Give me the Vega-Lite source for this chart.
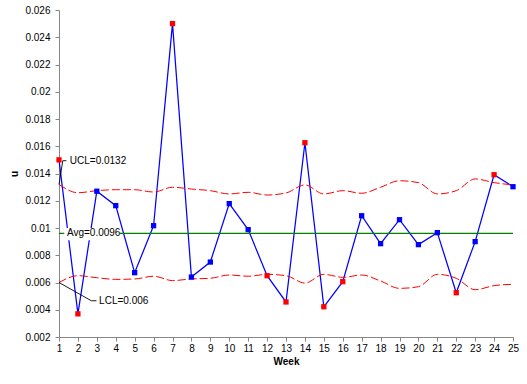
{
  "$schema": "https://vega.github.io/schema/vega-lite/v6.json",
  "width": 454,
  "height": 327,
  "autosize": {"type": "none"},
  "padding": {"left": 59, "top": 10, "right": 14, "bottom": 47},
  "background": "white",
  "config": {
    "view": {"stroke": null},
    "font": "Liberation Sans",
    "axis": {"labelFont": "Liberation Sans", "titleFont": "Liberation Sans", "labelColor": "#000000", "titleColor": "#000000", "domainColor": "#868686", "tickColor": "#868686", "grid": false, "labelFontSize": 10, "titleFontSize": 10, "titleFontWeight": "bold", "tickSize": 4, "labelFlush": false}
  },
  "datasets": {
    "weeks": [
      {"week": 1, "u": 0.0150, "ucl": 0.0132, "lcl": 0.0060, "status": "out"},
      {"week": 2, "u": 0.0037, "ucl": 0.01259, "lcl": 0.0065, "status": "out"},
      {"week": 3, "u": 0.0127, "ucl": 0.01274, "lcl": 0.00635, "status": "in"},
      {"week": 4, "u": 0.01164, "ucl": 0.01281, "lcl": 0.00623, "status": "in"},
      {"week": 5, "u": 0.00672, "ucl": 0.01281, "lcl": 0.00626, "status": "in"},
      {"week": 6, "u": 0.01017, "ucl": 0.01264, "lcl": 0.00646, "status": "in"},
      {"week": 7, "u": 0.0250, "ucl": 0.01299, "lcl": 0.00614, "status": "out"},
      {"week": 8, "u": 0.0064, "ucl": 0.01286, "lcl": 0.00626, "status": "in"},
      {"week": 9, "u": 0.0075, "ucl": 0.01274, "lcl": 0.00631, "status": "in"},
      {"week": 10, "u": 0.01179, "ucl": 0.0125, "lcl": 0.00655, "status": "in"},
      {"week": 11, "u": 0.00988, "ucl": 0.01262, "lcl": 0.00646, "status": "in"},
      {"week": 12, "u": 0.0065, "ucl": 0.01242, "lcl": 0.0066, "status": "out"},
      {"week": 13, "u": 0.00457, "ucl": 0.01257, "lcl": 0.0065, "status": "out"},
      {"week": 14, "u": 0.01626, "ucl": 0.01316, "lcl": 0.00596, "status": "out"},
      {"week": 15, "u": 0.00422, "ucl": 0.0125, "lcl": 0.0066, "status": "out"},
      {"week": 16, "u": 0.00606, "ucl": 0.01274, "lcl": 0.00638, "status": "out"},
      {"week": 17, "u": 0.0109, "ucl": 0.01255, "lcl": 0.00655, "status": "in"},
      {"week": 18, "u": 0.00885, "ucl": 0.01299, "lcl": 0.00611, "status": "in"},
      {"week": 19, "u": 0.01061, "ucl": 0.01347, "lcl": 0.00557, "status": "in"},
      {"week": 20, "u": 0.00878, "ucl": 0.01333, "lcl": 0.00569, "status": "in"},
      {"week": 21, "u": 0.00966, "ucl": 0.0125, "lcl": 0.0066, "status": "in"},
      {"week": 22, "u": 0.00525, "ucl": 0.01274, "lcl": 0.00631, "status": "out"},
      {"week": 23, "u": 0.0090, "ucl": 0.0136, "lcl": 0.00547, "status": "in"},
      {"week": 24, "u": 0.01391, "ucl": 0.01333, "lcl": 0.00577, "status": "out"},
      {"week": 25, "u": 0.01303, "ucl": 0.01316, "lcl": 0.00587, "status": "in"}
    ],
    "leaders": [
      {"label": "UCL", "seq": 1, "week": 1, "u": 0.0132},
      {"label": "UCL", "seq": 2, "week": 1.2, "u": 0.01494},
      {"label": "UCL", "seq": 3, "week": 1.39, "u": 0.01494},
      {"label": "LCL", "seq": 1, "week": 1, "u": 0.006},
      {"label": "LCL", "seq": 2, "week": 2.71, "u": 0.00466},
      {"label": "LCL", "seq": 3, "week": 2.98, "u": 0.00466}
    ],
    "labels": [
      {"text": "UCL=0.0132", "week": 1.57, "u": 0.01494},
      {"text": "Avg=0.0096", "week": 1.42, "u": 0.0096},
      {"text": "LCL=0.006", "week": 3.12, "u": 0.00464}
    ],
    "boxes": [
      {"from": 1.28, "to": 4.22, "top": 0.0100, "bottom": 0.0091}
    ]
  },
  "layer": [
    {
      "data": {"name": "weeks"},
      "mark": {"type": "line", "color": "#0000FF", "strokeWidth": 1.25},
      "encoding": {
        "x": {"field": "week", "type": "quantitative",
          "scale": {"domain": [1, 25], "nice": false, "zero": false},
          "axis": {"values": [1,2,3,4,5,6,7,8,9,10,11,12,13,14,15,16,17,18,19,20,21,22,23,24,25], "tickCount": 25, "format": "d", "title": "Week", "labelPadding": 2, "titlePadding": 3, "labelOverlap": false}},
        "y": {"field": "u", "type": "quantitative",
          "scale": {"domain": [0.002, 0.026], "nice": false, "zero": false},
          "axis": {"values": [0.002,0.004,0.006,0.008,0.01,0.012,0.014,0.016,0.018,0.02,0.022,0.024,0.026], "tickCount": 13, "format": "~g", "title": "u", "labelPadding": 5, "titlePadding": 5, "labelOverlap": false}}
      }
    },
    {
      "data": {"name": "weeks"},
      "mark": {"type": "rule", "color": "#008000", "strokeWidth": 1.25},
      "encoding": {
        "x": {"field": "week", "type": "quantitative", "aggregate": "min"},
        "x2": {"field": "week", "aggregate": "max"},
        "y": {"datum": 0.0096, "type": "quantitative"}
      }
    },
    {
      "data": {"name": "weeks"},
      "mark": {"type": "line", "color": "#FF0000", "strokeWidth": 1, "strokeDash": [8, 3], "interpolate": "monotone"},
      "encoding": {
        "x": {"field": "week", "type": "quantitative"},
        "y": {"field": "ucl", "type": "quantitative"}
      }
    },
    {
      "data": {"name": "weeks"},
      "mark": {"type": "line", "color": "#FF0000", "strokeWidth": 1, "strokeDash": [8, 3], "interpolate": "monotone"},
      "encoding": {
        "x": {"field": "week", "type": "quantitative"},
        "y": {"field": "lcl", "type": "quantitative"}
      }
    },
    {
      "data": {"name": "weeks"},
      "mark": {"type": "point", "shape": "square", "filled": true, "size": 28, "opacity": 1, "strokeWidth": 0},
      "encoding": {
        "x": {"field": "week", "type": "quantitative"},
        "y": {"field": "u", "type": "quantitative"},
        "color": {"field": "status", "type": "nominal", "scale": {"domain": ["in", "out"], "range": ["#0000FF", "#FF0000"]}, "legend": null}
      }
    },
    {
      "data": {"name": "boxes"},
      "mark": {"type": "rect", "color": "#FFFFFF", "opacity": 1},
      "encoding": {
        "x": {"field": "from", "type": "quantitative"},
        "x2": {"field": "to"},
        "y": {"field": "top", "type": "quantitative"},
        "y2": {"field": "bottom"}
      }
    },
    {
      "data": {"name": "leaders"},
      "mark": {"type": "line", "color": "#000000", "strokeWidth": 0.9},
      "encoding": {
        "x": {"field": "week", "type": "quantitative"},
        "y": {"field": "u", "type": "quantitative"},
        "detail": {"field": "label"},
        "order": {"field": "seq"}
      }
    },
    {
      "data": {"name": "labels"},
      "mark": {"type": "text", "align": "left", "baseline": "middle", "fontSize": 10, "color": "#000000", "font": "Liberation Sans"},
      "encoding": {
        "x": {"field": "week", "type": "quantitative"},
        "y": {"field": "u", "type": "quantitative"},
        "text": {"field": "text"}
      }
    }
  ]
}
